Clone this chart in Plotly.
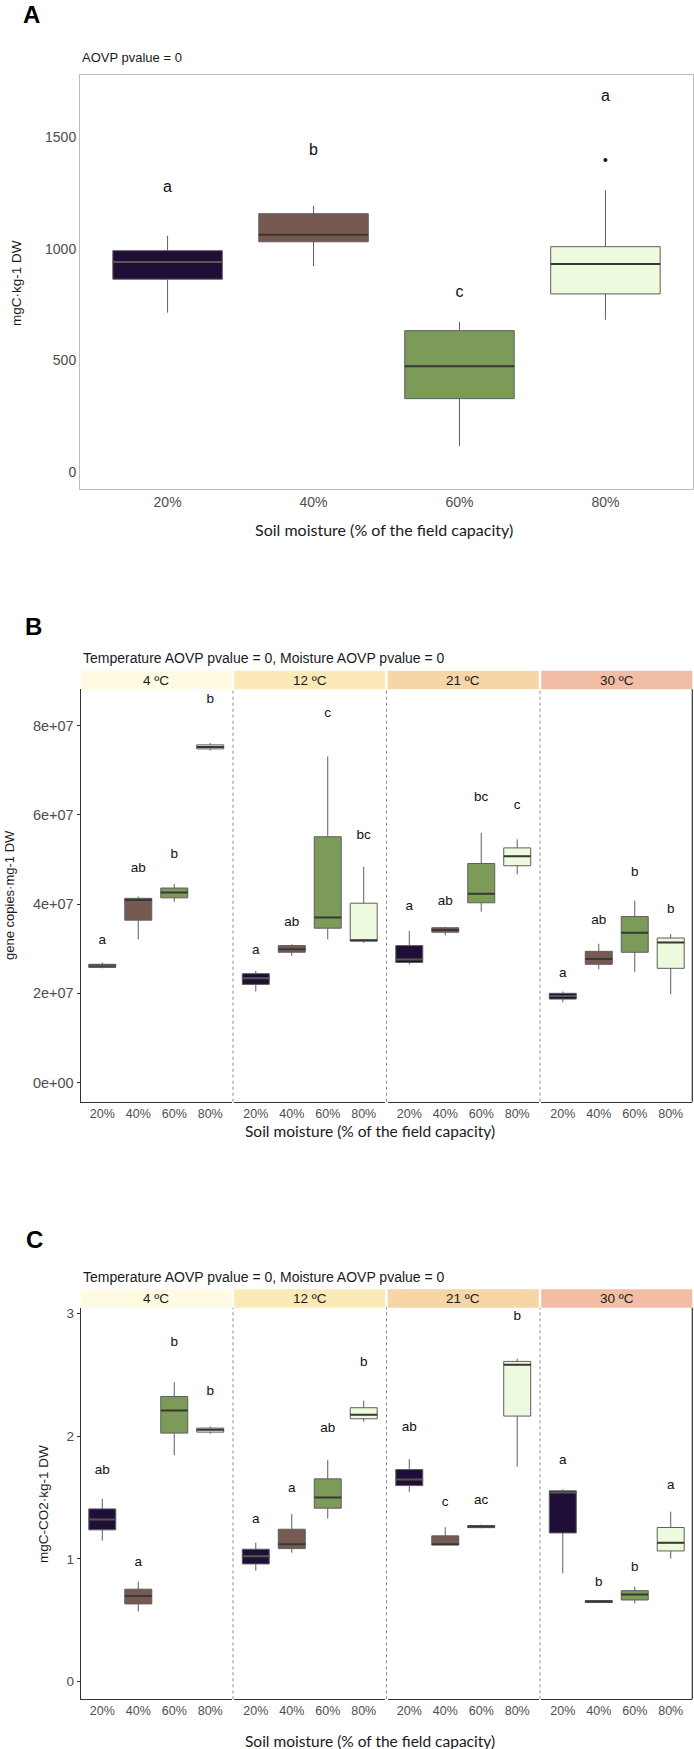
import plotly.graph_objects as go

W, H = 694, 1749

# ---------------- data ----------------
moisture = ["20%", "40%", "60%", "80%"]
temps = ["4 ºC", "12 ºC", "21 ºC", "30 ºC"]
box_colors = ["#1e0e38", "#765a52", "#7c9a58", "#eefadd"]
strip_colors = ["#fffbe2", "#fbe9b7", "#f6d5a6", "#f2bda5"]

# Panel A  (mgC·kg-1 DW)
a_q1 = [864, 1032, 328, 798]
a_med = [941, 1064, 473, 932]
a_q3 = [992, 1158, 633, 1010]
a_lo = [714, 922, 115, 682]
a_hi = [1059, 1194, 673, 1263]
a_outlier_x = ["80%"]
a_outlier_y = [1399]
a_letters = ["a", "b", "c", "a"]
a_letter_y = [1272, 1439, 803, 1680]

# Panel B  (gene copies·mg-1 DW, x1e7), one list per temperature
b_q1 = [[2.58, 3.64, 4.14, 7.48], [2.20, 2.92, 3.46, 3.17], [2.69, 3.37, 4.03, 4.86], [1.87, 2.65, 2.92, 2.56]]
b_med = [[2.62, 4.09, 4.26, 7.52], [2.34, 2.99, 3.70, 3.19], [2.76, 3.42, 4.23, 5.07], [1.94, 2.77, 3.36, 3.14]]
b_q3 = [[2.65, 4.13, 4.36, 7.57], [2.44, 3.07, 5.51, 4.02], [3.07, 3.47, 4.91, 5.26], [2.00, 2.94, 3.72, 3.24]]
b_lo = [[2.56, 3.21, 4.05, 7.44], [2.04, 2.84, 3.21, 3.13], [2.65, 3.30, 3.83, 4.67], [1.80, 2.54, 2.48, 1.98]]
b_hi = [[2.69, 4.17, 4.45, 7.61], [2.50, 3.10, 7.31, 4.84], [3.40, 3.49, 5.60, 5.45], [2.04, 3.11, 4.08, 3.33]]
b_letters = [["a", "ab", "b", "b"], ["a", "ab", "c", "bc"], ["a", "ab", "bc", "c"], ["a", "ab", "b", "b"]]
b_letter_y = [[3.17, 4.80, 5.12, 8.59], [2.96, 3.59, 8.26, 5.53], [3.94, 4.05, 6.38, 6.20], [2.45, 3.63, 4.70, 3.88]]
b_scale = 1e7

# Panel C  (mgC-CO2·kg-1 DW)
c_q1 = [[1.237, 0.633, 2.026, 2.034], [0.959, 1.084, 1.414, 2.143], [1.598, 1.114, 1.255, 2.165], [1.212, 0.645, 0.665, 1.065]]
c_med = [[1.321, 0.698, 2.211, 2.053], [1.022, 1.120, 1.501, 2.176], [1.647, 1.120, 1.265, 2.584], [1.541, 0.652, 0.709, 1.131]]
c_q3 = [[1.408, 0.753, 2.325, 2.067], [1.079, 1.242, 1.653, 2.233], [1.729, 1.188, 1.272, 2.611], [1.555, 0.660, 0.741, 1.256]]
c_lo = [[1.149, 0.570, 1.846, 2.020], [0.905, 1.051, 1.329, 2.118], [1.547, 1.114, 1.250, 1.754], [0.883, 0.640, 0.638, 1.002]]
c_hi = [[1.490, 0.815, 2.442, 2.080], [1.133, 1.365, 1.808, 2.292], [1.814, 1.259, 1.280, 2.633], [1.569, 0.665, 0.774, 1.386]]
c_letters = [["ab", "a", "b", "b"], ["a", "a", "ab", "b"], ["ab", "c", "ac", "b"], ["a", "b", "b", "a"]]
c_letter_y = [[1.718, 0.967, 2.761, 2.363], [1.324, 1.571, 2.064, 2.598], [2.067, 1.460, 1.479, 2.978], [1.800, 0.810, 0.929, 1.598]]

b_ticks = [0, 2e7, 4e7, 6e7, 8e7]
b_ticktext = ["0e+00", "2e+07", "4e+07", "6e+07", "8e+07"]
a_ticks = [0, 500, 1000, 1500]
c_ticks = [0, 1, 2, 3]

# ---------------- helpers ----------------
FONT = "Liberation Sans, Arial, sans-serif"
TITLE_FONT = "Lato, Open Sans, sans-serif"
BOXW = 0.75


def fx(p):
    return p / W


def fy(p):
    return 1 - p / H


fig = go.Figure()


def add_group(xa, ya, q1, med, q3, lo, hi, letters, letter_y, scale=1.0, letter_size=13.5):
    pos = list(range(1, len(moisture) + 1))
    for i, p in enumerate(pos):
        fig.add_trace(go.Box(
            x=[p], q1=[q1[i] * scale], median=[med[i] * scale], q3=[q3[i] * scale],
            lowerfence=[lo[i] * scale], upperfence=[hi[i] * scale],
            orientation="v", width=BOXW, fillcolor=box_colors[i],
            line=dict(color="#5e5e5e", width=1), whiskerwidth=0, boxpoints=False,
            xaxis=xa, yaxis=ya, showlegend=False, hoverinfo="skip"))
        fig.add_trace(go.Scatter(
            x=[p - BOXW / 2, p + BOXW / 2], y=[med[i] * scale, med[i] * scale],
            mode="lines", line=dict(color="#383838" if i else "#55584a", width=2),
            xaxis=xa, yaxis=ya, showlegend=False, hoverinfo="skip"))
    fig.add_trace(go.Scatter(
        x=pos, y=[v * scale for v in letter_y], text=letters, mode="text",
        textfont=dict(family=FONT, size=letter_size, color="#111111"),
        xaxis=xa, yaxis=ya, showlegend=False, hoverinfo="skip"))


# Panel A
add_group("x", "y", a_q1, a_med, a_q3, a_lo, a_hi, a_letters, a_letter_y, letter_size=16)
fig.add_trace(go.Scatter(
    x=[moisture.index(v) + 1 for v in a_outlier_x], y=a_outlier_y, mode="markers",
    marker=dict(color="#111111", size=4), xaxis="x", yaxis="y",
    showlegend=False, hoverinfo="skip"))

# Facet geometry (pixels)
f_left, f_w, f_gap = 80.7, 151.1, 2.4
facets = [(f_left + k * (f_w + f_gap), f_left + k * (f_w + f_gap) + f_w) for k in range(4)]

for k in range(4):
    add_group("x%d" % (k + 2), "y2", b_q1[k], b_med[k], b_q3[k], b_lo[k], b_hi[k],
              b_letters[k], b_letter_y[k], scale=b_scale)
    add_group("x%d" % (k + 6), "y3", c_q1[k], c_med[k], c_q3[k], c_lo[k], c_hi[k],
              c_letters[k], c_letter_y[k])

tickfont_a = dict(family=FONT, size=14, color="#4d4d4d")
tickfont_b = dict(family=FONT, size=12.5, color="#4d4d4d")

layout = dict(
    width=W, height=H, margin=dict(l=0, r=0, t=0, b=0),
    paper_bgcolor="white", plot_bgcolor="white", boxmode="overlay",
    showlegend=False, font=dict(family=FONT),
    xaxis=dict(domain=[fx(80), fx(693)], range=[0.4, 4.6], tickvals=[1, 2, 3, 4],
               ticktext=moisture, showline=True, mirror=True, linecolor="#bdbdbd",
               linewidth=1, showgrid=False, zeroline=False, ticks="", tickfont=tickfont_a,
               anchor="y", fixedrange=True),
    yaxis=dict(domain=[fy(489), fy(75)], range=[-77.6, 1780.5], tickvals=a_ticks,
               showline=True, mirror=True, linecolor="#bdbdbd", linewidth=1,
               showgrid=False, zeroline=False, ticks="", tickfont=tickfont_a,
               anchor="x", fixedrange=True),
    yaxis2=dict(domain=[fy(1101.7), fy(689.3)], range=[-0.4305e7, 8.816e7],
                tickvals=b_ticks, ticktext=b_ticktext, showline=True, linecolor="#333333",
                linewidth=1.2, showgrid=False, zeroline=False, ticks="outside", ticklen=3,
                tickcolor="#333333", tickfont=dict(family=FONT, size=14.5, color="#4d4d4d"),
                anchor="x2", fixedrange=True),
    yaxis3=dict(domain=[fy(1699.3), fy(1307.7)], range=[-0.145, 3.049],
                tickvals=c_ticks, showline=True, linecolor="#333333",
                linewidth=1.2, showgrid=False, zeroline=False, ticks="outside", ticklen=3,
                tickcolor="#333333", tickfont=dict(family=FONT, size=13.5, color="#4d4d4d"),
                anchor="x6", fixedrange=True),
)

for k in range(4):
    for base, ya in ((2, "y2"), (6, "y3")):
        layout["xaxis%d" % (k + base)] = dict(
            domain=[fx(facets[k][0]), fx(facets[k][1])], range=[0.4, 4.6],
            tickvals=[1, 2, 3, 4], ticktext=moisture, showline=True,
            linecolor="#333333", linewidth=1.2, showgrid=False, zeroline=False,
            ticks="", tickfont=tickfont_b, anchor=ya, fixedrange=True)

fig.update_layout(**layout)

shapes = []
annotations = []

panels = [  # (strip top, strip bottom, plot bottom)
    (670.7, 689.3, 1101.7),
    (1289.3, 1307.7, 1699.3),
]
for (s_top, s_bot, p_bot) in panels:
    for k in range(4):
        x0, x1 = facets[k]
        shapes.append(dict(type="rect", xref="paper", yref="paper",
                           x0=fx(x0), x1=fx(x1), y0=fy(s_bot), y1=fy(s_top),
                           fillcolor=strip_colors[k], line=dict(width=0), layer="below"))
        annotations.append(dict(text=temps[k], xref="paper", yref="paper",
                                x=fx((x0 + x1) / 2), y=fy((s_top + s_bot) / 2),
                                showarrow=False, xanchor="center", yanchor="middle",
                                font=dict(family=FONT, size=13.5, color="#1a1a1a")))
        if k < 3:
            xm = (facets[k][1] + facets[k + 1][0]) / 2
            shapes.append(dict(type="line", xref="paper", yref="paper",
                               x0=fx(xm), x1=fx(xm), y0=fy(p_bot), y1=fy(s_bot),
                               line=dict(color="#8c8c8c", width=1, dash="3px,3px")))
    shapes.append(dict(type="line", xref="paper", yref="paper",
                       x0=fx(facets[3][1]), x1=fx(facets[3][1]), y0=fy(p_bot), y1=fy(s_bot),
                       line=dict(color="#333333", width=1.2)))


def ann(text, x, y, size, family=FONT, color="#1a1a1a", xanchor="center", angle=0, bold=False):
    annotations.append(dict(text="<b>%s</b>" % text if bold else text, xref="paper", yref="paper",
                            x=fx(x), y=fy(y), showarrow=False, xanchor=xanchor,
                            yanchor="middle", textangle=angle,
                            font=dict(family=family, size=size, color=color)))


# panel letters
ann("A", 31, 14, 24, color="#000000", bold=True)
ann("B", 33, 626, 24, color="#000000", bold=True)
ann("C", 34, 1239, 24, color="#000000", bold=True)

# titles
ann("AOVP pvalue = 0", 80, 57, 13, xanchor="left")
ann("Temperature AOVP pvalue = 0, Moisture AOVP pvalue = 0", 81, 658, 14, xanchor="left")
ann("Temperature AOVP pvalue = 0, Moisture AOVP pvalue = 0", 81, 1277, 14, xanchor="left")

# axis titles
ann("mgC·kg-1 DW", 16, 283, 13.5, angle=-90)
ann("gene copies·mg-1 DW", 9, 895, 13, angle=-90)
ann("mgC-CO2·kg-1 DW", 43, 1504, 13.5, angle=-90)
ann("Soil moisture (% of the field capacity)", 384, 530, 16, family=TITLE_FONT)
ann("Soil moisture (% of the field capacity)", 370, 1131, 15.5, family=TITLE_FONT)
ann("Soil moisture (% of the field capacity)", 370, 1741, 15.5, family=TITLE_FONT)

fig.update_layout(shapes=shapes, annotations=annotations)

fig.write_html("out.html")
